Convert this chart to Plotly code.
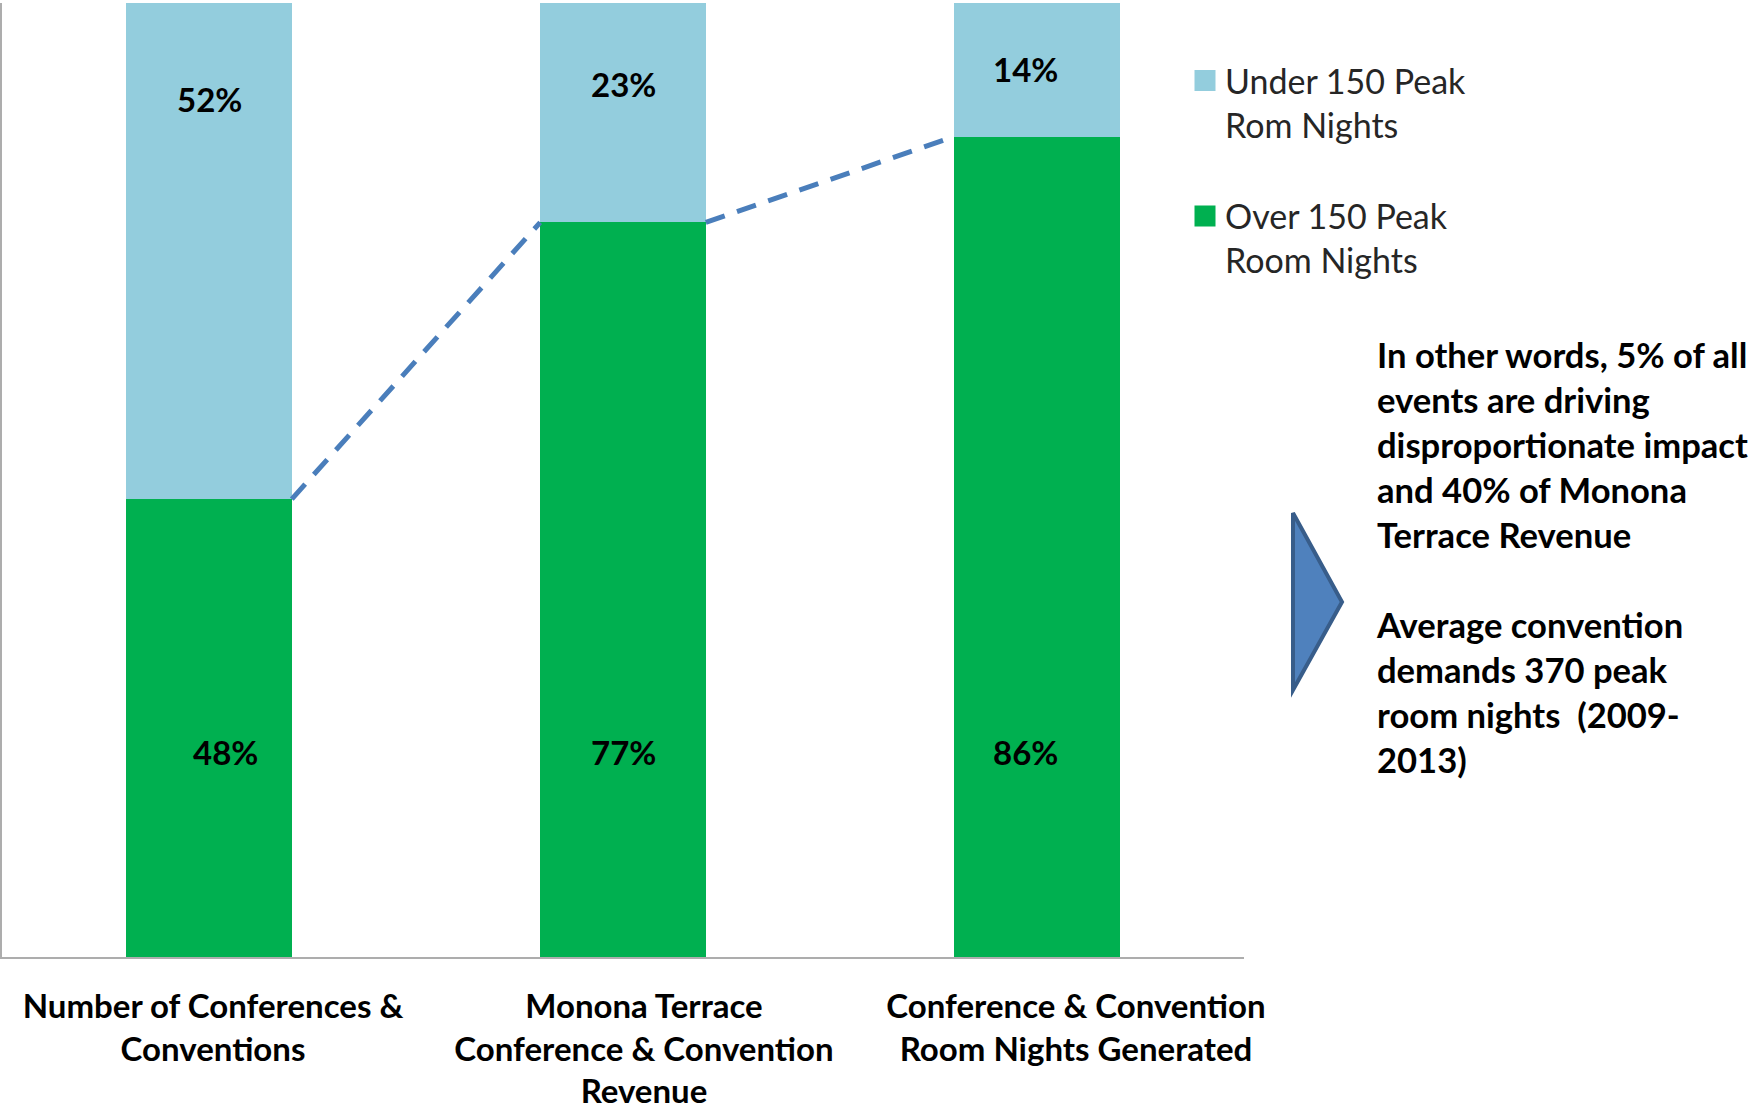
import plotly.graph_objects as go

# ---------------- data ----------------
categories = [
    "Number of Conferences &<br>Conventions",
    "Monona Terrace<br>Conference & Convention<br>Revenue",
    "Conference & Convention<br>Room Nights Generated",
]
over_150 = [48, 77, 86]      # % Over 150 Peak Room Nights
under_150 = [52, 23, 14]     # % Under 150 Peak Rom Nights
series_names = ["Over 150 Peak<br>Room Nights", "Under 150 Peak<br>Rom Nights"]
callout_lines = [
    "In other words, 5% of all",
    "events are driving",
    "disproportionate impact",
    "and 40% of Monona",
    "Terrace Revenue",
    "",
    "Average convention",
    "demands 370 peak",
    "room nights  (2009-",
    "2013)",
]

# ---------------- styling / layout constants ----------------
W, H = 1754, 1112
ML, MR, MT, MB = 2, 510, 3, 155
PW, PH = W - ML - MR, H - MT - MB
CAT_PX = PW / 3.0
BAR_W = 0.4
GREEN = "#00B050"
LBLUE = "#93CDDD"
LINE_BLUE = "#4A7EBB"
FONT = "Lato"

top_label_y = [89.9, 91.5, 93.1]
bottom_label_y = 21.5
top_label_dx = [0, 0, -12]
bottom_label_dx = [16, 0, -12]
tick_label_dx = [4, 21, 39]   # category labels sit slightly right of bar centres

def px_x(p):
    return (p - ML) / PW

def px_y(p):
    return (H - MB - p) / PH

x = list(range(len(categories)))

fig = go.Figure()
fig.add_trace(go.Bar(
    x=x, y=over_150, name=series_names[0], width=BAR_W, showlegend=False,
    marker=dict(color=GREEN, line=dict(width=0)), legendgroup="over",
))
fig.add_trace(go.Bar(
    x=x, y=under_150, name=series_names[1], width=BAR_W, showlegend=False,
    marker=dict(color=LBLUE, line=dict(width=0)), legendgroup="under",
))

# legend entries (square swatches sized like the original legend keys)
for name, col, grp, rank in [(series_names[1], LBLUE, "under", 1),
                             (series_names[0], GREEN, "over", 2)]:
    fig.add_trace(go.Scatter(
        x=[None], y=[None], mode="markers", name=name, legendgroup=grp,
        legendrank=rank, hoverinfo="skip",
        marker=dict(symbol="square", size=16, color=col, line=dict(color=col, width=5)),
    ))

# dashed series lines connecting the tops of the green segments
lx, ly = [], []
for i in range(len(x) - 1):
    lx += [x[i] + BAR_W / 2, x[i + 1] - BAR_W / 2, None]
    ly += [over_150[i], over_150[i + 1], None]
fig.add_trace(go.Scatter(
    x=lx, y=ly, mode="lines", showlegend=False, hoverinfo="skip",
    line=dict(color=LINE_BLUE, width=5, dash="20px,13px"),
))

# data labels
for i in x:
    fig.add_annotation(x=x[i], y=top_label_y[i], text=f"<b>{under_150[i]}%</b>",
                       showarrow=False, xshift=top_label_dx[i],
                       font=dict(family=FONT, size=33, color="black"))
    fig.add_annotation(x=x[i], y=bottom_label_y, text=f"<b>{over_150[i]}%</b>",
                       showarrow=False, xshift=bottom_label_dx[i],
                       font=dict(family=FONT, size=33, color="black"))

# callout text
fig.add_annotation(
    xref="paper", yref="paper", x=px_x(1374), y=px_y(556.5),
    xanchor="left", yanchor="middle", align="left", showarrow=False,
    text="<br>".join(f"<b>{t}</b>" if t else "" for t in callout_lines),
    font=dict(family=FONT, size=34.6, color="black"),
)

# arrow (chevron triangle)
ax0, ax1 = px_x(1293), px_x(1342)
ay0, ay1, aym = px_y(513), px_y(690), px_y(602)
fig.add_shape(
    type="path", xref="paper", yref="paper",
    path=f"M {ax0} {ay0} L {ax1} {aym} L {ax0} {ay1} Z",
    fillcolor="#4F81BD", line=dict(color="#385D8A", width=4),
)

fig.update_layout(
    width=W, height=H,
    margin=dict(l=ML, r=MR, t=MT, b=MB, autoexpand=False),
    barmode="stack",
    plot_bgcolor="white", paper_bgcolor="white",
    showlegend=True,
    legend=dict(
        x=px_x(1185), y=px_y(52), xanchor="left", yanchor="top",
        traceorder="grouped", valign="top", tracegroupgap=44,
        itemsizing="trace",
        font=dict(family=FONT, size=34, color="#262626"),
        bgcolor="rgba(0,0,0,0)",
    ),
    xaxis=dict(
        range=[-0.5, 2.5],
        tickvals=[xi + d / CAT_PX for xi, d in zip(x, tick_label_dx)],
        ticktext=[f"<b>{c}</b>" for c in categories],
        showgrid=False, zeroline=False, showline=True, linecolor="#ADADAD", linewidth=2,
        ticks="", tickfont=dict(family=FONT, size=33, color="black"),
        ticklabelstandoff=19, automargin=False, fixedrange=True,
    ),
    yaxis=dict(
        range=[0, 100], showgrid=False, zeroline=False, showline=True,
        linecolor="#ADADAD", linewidth=2, showticklabels=False, ticks="",
        automargin=False, fixedrange=True,
    ),
)

fig.write_html("out.html", config={"displayModeBar": False},
               post_script="document.body.style.margin='0';")
